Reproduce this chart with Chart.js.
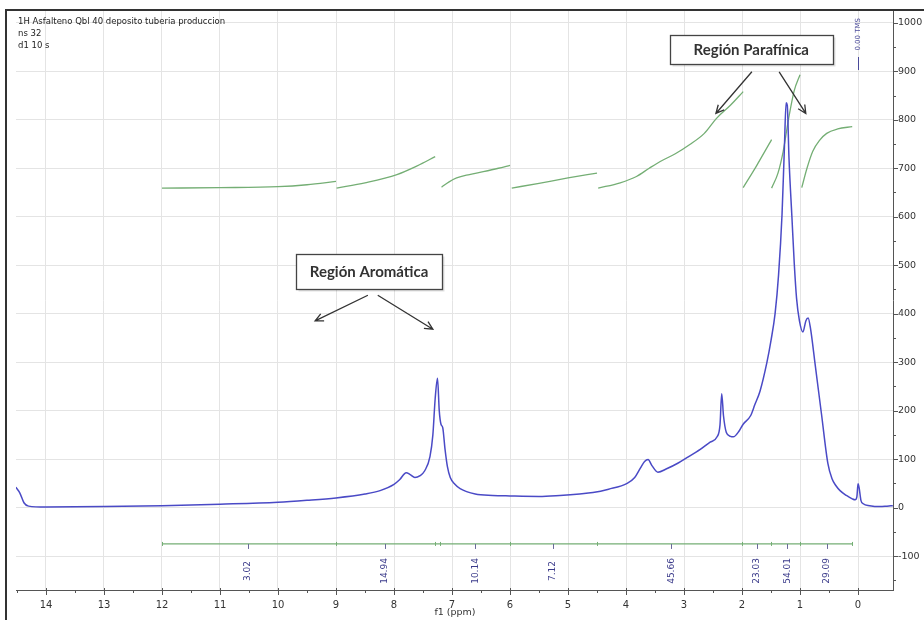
<!DOCTYPE html>
<html>
<head>
<meta charset="utf-8">
<script src="https://cdn.jsdelivr.net/npm/chart.js@4.4.1/dist/chart.umd.min.js"></script>
<style>
  html, body { margin: 0; padding: 0; background: #fff; }
  #wrap { width: 924px; height: 620px; position: relative; }
</style>
</head>
<body>
<div id="wrap"><canvas id="c" width="924" height="620"></canvas></div>
<script>
// 1H spectrum: chemical shift (ppm) and intensity
const spectrumPpm = [
  14.52, 14.45, 14.38, 14.3, 14.0, 13.0, 12.0, 11.0, 10.0, 9.5, 9.0, 8.5, 8.24, 8.0, 7.9,
  7.79, 7.72, 7.64, 7.55, 7.47, 7.38, 7.33, 7.29, 7.25, 7.22, 7.19, 7.16, 7.12, 7.08, 7.03,
  6.95, 6.86, 6.6, 6.3, 6.0, 5.5, 5.14, 4.8, 4.57, 4.3, 3.98, 3.85, 3.75, 3.68, 3.62,
  3.55, 3.45, 3.3, 3.1, 2.95, 2.72, 2.55, 2.43, 2.38, 2.35, 2.32, 2.27, 2.2, 2.15, 2.05,
  1.98, 1.85, 1.78, 1.69, 1.57, 1.5, 1.43, 1.37, 1.31, 1.27, 1.24, 1.22, 1.19, 1.14, 1.1,
  1.06, 1.01, 0.95, 0.9, 0.86, 0.82, 0.74, 0.63, 0.52, 0.45, 0.38, 0.31, 0.2, 0.1, 0.05,
  0.02, 0.0, -0.02, -0.05, -0.09, -0.2, -0.38, -0.5, -0.6
];
const spectrumIntensity = [
  42, 30, 10, 3, 1, 2, 4, 7, 11, 15, 20, 28, 35, 48, 58,
  72, 68, 62, 66, 76, 105, 150, 225, 267, 200, 172, 165, 120, 85, 62,
  48, 39, 28, 25, 24, 23, 25, 28, 31, 38, 50, 62, 82, 95, 99,
  86, 73, 80, 92, 103, 120, 135, 146, 170, 235, 190, 155, 147, 146, 158,
  172, 190, 212, 240, 300, 345, 400, 480, 605, 740, 835, 830, 720, 600, 505,
  432, 385, 362, 385, 391, 370, 296, 193, 91, 60, 45, 35, 25, 18, 16,
  22, 49, 40, 15, 8, 4, 2, 3, 4
];

// Integral curves, one per integrated region
const integralPpm = [
  [12, 11, 10, 9.5, 9],
  [8.99, 8.5, 7.95, 7.6, 7.29],
  [7.18, 7.05, 6.92, 6.7, 6.46, 6.2, 6.0],
  [5.97, 5.5, 5.0, 4.5],
  [4.48, 4.1, 3.82, 3.6, 3.41, 3.15, 2.9, 2.65, 2.44, 2.2, 1.98],
  [1.98, 1.75, 1.49],
  [1.49, 1.38, 1.29, 1.2, 1.1, 1.0],
  [0.97, 0.88, 0.78, 0.66, 0.54, 0.35, 0.1]
];
const integralValue = [
  [659, 660, 662, 666, 673],
  [659, 670, 687, 705, 724],
  [661, 672, 680, 687, 693, 700, 706],
  [659, 669, 680, 690],
  [659, 670, 683, 700, 714, 730, 749, 772, 803, 830, 858],
  [660, 705, 759],
  [659, 690, 735, 800, 860, 893],
  [660, 700, 735, 758, 772, 781, 786]
];

// Integration bar: region limits, label positions and integral values
const integralBarLevel = -75;
const integralLimits = [12, 9, 7.3, 7.2, 6, 4.5, 2, 1.5, 1, 0.1];
const integralLabelPpm = [10.52, 8.16, 6.6, 5.26, 3.22, 1.74, 1.22, 0.54];
const integralLabels = ['3.02', '14.94', '10.14', '7.12', '45.66', '23.03', '54.01', '29.09'];

// Axes
const xRange = [-0.603, 14.517];
const yRange = [-170, 1025];
const xTickValues = [14, 13, 12, 11, 10, 9, 8, 7, 6, 5, 4, 3, 2, 1, 0];
const yTickValues = [-100, 0, 100, 200, 300, 400, 500, 600, 700, 800, 900, 1000];
const headerLines = ['1H Asfalteno Qbl 40 deposito tuberia produccion', 'ns 32', 'd1 10 s'];
const tmsLabel = { ppm: 0, text: '0.00 TMS' };

// Region callouts (anchor positions in ppm / intensity units)
const callouts = [
  { text: 'Región Aromática', ppm: 8.43, val: 488, w: 146, h: 35,
    arrows: [[8.45, 438, 9.36, 385], [8.28, 438, 7.33, 368]] },
  { text: 'Región Parafínica', ppm: 1.84, val: 945, w: 163, h: 29,
    arrows: [[1.83, 899, 2.45, 813], [1.36, 899, 0.9, 813]] }
];

const BLUE = '#4a4ac6';
const GREEN = '#74ae74';

const datasets = [{
  data: spectrumPpm.map((p, i) => ({ x: p, y: spectrumIntensity[i] })),
  borderColor: BLUE, borderWidth: 1.5, pointRadius: 0,
  cubicInterpolationMode: 'monotone', order: 1
}];
integralPpm.forEach((arr, k) => {
  datasets.push({
    data: arr.map((p, i) => ({ x: p, y: integralValue[k][i] })),
    borderColor: GREEN, borderWidth: 1.3, pointRadius: 0,
    cubicInterpolationMode: 'monotone', order: 2
  });
});
datasets.push({
  data: [{ x: integralLimits[0], y: integralBarLevel }, { x: integralLimits[integralLimits.length - 1], y: integralBarLevel }],
  borderColor: GREEN, borderWidth: 1.2, pointRadius: 0, order: 3
});

const decor = {
  id: 'decor',
  afterDatasetsDraw(chart) {
    const ctx = chart.ctx;
    const xs = chart.scales.x, ys = chart.scales.y;
    const area = chart.chartArea;
    ctx.save();

    // minor and major ticks
    ctx.strokeStyle = '#555';
    ctx.lineWidth = 1;
    ctx.beginPath();
    for (let v = 0; v <= 14.5; v += 0.5) {
      const px = Math.round(xs.getPixelForValue(v)) + 0.5;
      const major = Math.abs(v - Math.round(v)) < 1e-6;
      ctx.moveTo(px, area.bottom - (major ? 2 : 0));
      ctx.lineTo(px, area.bottom + (major ? 5 : 3));
    }
    for (let v = -150; v <= 1000; v += 50) {
      const py = Math.round(ys.getPixelForValue(v)) + 0.5;
      const major = v % 100 === 0;
      ctx.moveTo(area.right, py);
      ctx.lineTo(area.right + (major ? 5 : 3), py);
    }
    ctx.stroke();

    // integration bar markers and labels
    const yBar = ys.getPixelForValue(integralBarLevel);
    ctx.strokeStyle = GREEN;
    ctx.beginPath();
    integralLimits.forEach(p => {
      const px = Math.round(xs.getPixelForValue(p)) + 0.5;
      ctx.moveTo(px, yBar - 2); ctx.lineTo(px, yBar + 2);
    });
    ctx.stroke();
    ctx.strokeStyle = '#6a6a9a';
    ctx.beginPath();
    integralLabelPpm.forEach(p => {
      const px = Math.round(xs.getPixelForValue(p)) + 0.5;
      ctx.moveTo(px, yBar); ctx.lineTo(px, yBar + 5);
    });
    ctx.stroke();
    ctx.fillStyle = '#3a3a8a';
    ctx.font = '9px "DejaVu Sans"';
    ctx.textAlign = 'center';
    ctx.textBaseline = 'middle';
    integralLabelPpm.forEach((p, i) => {
      const px = xs.getPixelForValue(p);
      ctx.save();
      ctx.translate(px, yBar + 27);
      ctx.rotate(-Math.PI / 2);
      ctx.fillText(integralLabels[i], 0, 0);
      ctx.restore();
    });

    // reference peak label
    const tx = xs.getPixelForValue(tmsLabel.ppm);
    ctx.save();
    ctx.fillStyle = '#4a4a9a';
    ctx.font = '7px "DejaVu Sans"';
    ctx.translate(tx, 18);
    ctx.rotate(-Math.PI / 2);
    ctx.textAlign = 'right';
    ctx.textBaseline = 'middle';
    ctx.fillText(tmsLabel.text, 0, 0);
    ctx.restore();
    ctx.strokeStyle = '#4a4a9a';
    ctx.beginPath();
    ctx.moveTo(Math.round(tx) + 0.5, 57); ctx.lineTo(Math.round(tx) + 0.5, 70);
    ctx.stroke();

    // header text
    ctx.fillStyle = '#222';
    ctx.font = '8.5px "DejaVu Sans"';
    ctx.textAlign = 'left';
    ctx.textBaseline = 'middle';
    headerLines.forEach((t, i) => ctx.fillText(t, 18, 22 + i * 12));

    // callouts
    callouts.forEach(c => {
      const cx = xs.getPixelForValue(c.ppm), cy = ys.getPixelForValue(c.val);
      const x0 = Math.round(cx - c.w / 2) + 0.5, y0 = Math.round(cy - c.h / 2) + 0.5;
      ctx.fillStyle = 'rgba(0,0,0,0.12)';
      ctx.fillRect(x0 + 2, y0 + 2, c.w, c.h);
      ctx.fillStyle = '#fff';
      ctx.fillRect(x0, y0, c.w, c.h);
      ctx.strokeStyle = '#444';
      ctx.lineWidth = 1.3;
      ctx.strokeRect(x0, y0, c.w, c.h);
      ctx.fillStyle = '#333';
      ctx.font = 'bold 15px Lato';
      ctx.textAlign = 'center';
      ctx.textBaseline = 'middle';
      ctx.fillText(c.text, cx, cy + 1);
      c.arrows.forEach(a => {
        const ax = xs.getPixelForValue(a[0]), ay = ys.getPixelForValue(a[1]);
        const bx = xs.getPixelForValue(a[2]), by = ys.getPixelForValue(a[3]);
        const ang = Math.atan2(by - ay, bx - ax);
        ctx.strokeStyle = '#333';
        ctx.lineWidth = 1.3;
        ctx.beginPath();
        ctx.moveTo(ax, ay); ctx.lineTo(bx, by);
        ctx.moveTo(bx - 9 * Math.cos(ang - 0.45), by - 9 * Math.sin(ang - 0.45));
        ctx.lineTo(bx, by);
        ctx.lineTo(bx - 9 * Math.cos(ang + 0.45), by - 9 * Math.sin(ang + 0.45));
        ctx.stroke();
      });
    });

    // axis title
    ctx.fillStyle = '#333';
    ctx.font = '9.5px "DejaVu Sans"';
    ctx.textAlign = 'center';
    ctx.textBaseline = 'middle';
    ctx.fillText('f1 (ppm)', 455, 613);

    // outer frame
    ctx.strokeStyle = '#333';
    ctx.lineWidth = 2;
    ctx.beginPath();
    ctx.moveTo(6, 620); ctx.lineTo(6, 10); ctx.lineTo(924, 10);
    ctx.stroke();
    ctx.restore();
  }
};

new Chart(document.getElementById('c'), {
  type: 'line',
  data: { datasets },
  options: {
    responsive: false,
    animation: false,
    devicePixelRatio: 1,
    layout: { padding: { left: 16, top: 8, right: 0, bottom: 0 } },
    plugins: { legend: { display: false }, tooltip: { enabled: false } },
    elements: { line: { fill: false } },
    scales: {
      x: {
        type: 'linear', reverse: true, min: xRange[0], max: xRange[1],
        afterFit(s) { s.height = 30; },
        afterBuildTicks(s) { s.ticks = xTickValues.map(v => ({ value: v })); },
        grid: { color: '#e4e4e4', drawTicks: false },
        border: { color: '#555' },
        ticks: {
          padding: 9, maxRotation: 0, autoSkip: false,
          color: '#333', font: { family: 'DejaVu Sans', size: 10 },
          callback: v => String(v)
        }
      },
      y: {
        type: 'linear', position: 'right', min: yRange[0], max: yRange[1],
        afterFit(s) { s.width = 31; },
        afterBuildTicks(s) { s.ticks = yTickValues.map(v => ({ value: v })); },
        grid: { color: '#e4e4e4', drawTicks: false },
        border: { color: '#555' },
        ticks: {
          padding: 5, autoSkip: false,
          color: '#333', font: { family: 'DejaVu Sans', size: 9.5 },
          callback: v => String(v)
        }
      }
    }
  },
  plugins: [decor]
});
</script>
</body>
</html>
